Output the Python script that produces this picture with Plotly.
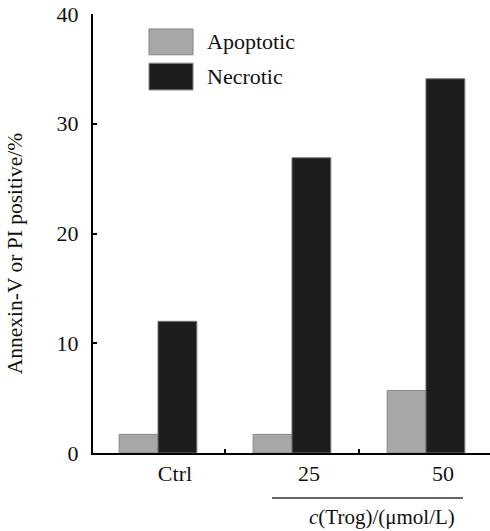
import plotly.graph_objects as go

categories = ["Ctrl", "25", "50"]
apoptotic = [1.7, 1.7, 5.7]
necrotic = [12.0, 26.9, 34.1]
series_names = ["Apoptotic", "Necrotic"]
y_ticks = [0, 10, 20, 30, 40]
x_title = "<i>c</i>(Trog)/(μmol/L)"
y_title = "Annexin-V or PI positive/%"

FONT = "Liberation Serif, Times New Roman, serif"
C_APO = "#a7a7a7"
C_NEC = "#1d1d1d"
FS = 22

fig = go.Figure()
fig.add_trace(go.Bar(x=categories, y=apoptotic, name=series_names[0],
                     marker=dict(color=C_APO, line=dict(color="#8a8a8a", width=1))))
fig.add_trace(go.Bar(x=categories, y=necrotic, name=series_names[1],
                     marker=dict(color=C_NEC, line=dict(color="#777777", width=1))))

fig.update_layout(
    width=490, height=531,
    margin=dict(l=93, r=0, t=14, b=78),
    paper_bgcolor="white", plot_bgcolor="white",
    barmode="group", bargap=0.42, bargroupgap=0,
    showlegend=False,
    font=dict(family=FONT, size=FS, color="#111"),
)
fig.update_xaxes(
    type="category", range=[-0.485, 2.478],
    showline=True, linecolor="black", linewidth=2,
    ticks="inside", ticklen=4, tickwidth=2, tickcolor="black",
    tickson="boundaries", showgrid=False, zeroline=False,
    ticklabelshift=17, ticklabelstandoff=0,
    tickfont=dict(family=FONT, size=FS, color="#111"),
)
fig.update_yaxes(
    range=[0, 40], tickvals=y_ticks,
    showline=True, linecolor="black", linewidth=2,
    ticks="inside", ticklen=4, tickwidth=2, tickcolor="black",
    showgrid=False, zeroline=False, ticklabelstandoff=8,
    ticklabeloverflow="allow",
    tickfont=dict(family=FONT, size=FS, color="#111"),
)

# y-axis title
fig.add_annotation(text=y_title, xref="paper", yref="paper", x=0, y=0.455,
                   xshift=-78, textangle=-90, showarrow=False,
                   xanchor="center", yanchor="middle",
                   font=dict(family=FONT, size=21.5, color="#111"))

# custom legend
legend_colors = [C_APO, C_NEC]
legend_rows = [(0.966, 0.907), (0.888, 0.827)]
for name, col, (y1, y0) in zip(series_names, legend_colors, legend_rows):
    fig.add_shape(type="rect", xref="paper", yref="paper",
                  x0=0.141, x1=0.252, y0=y0, y1=y1,
                  fillcolor=col, line=dict(color="#8a8a8a", width=1))
    fig.add_annotation(text=name, xref="paper", yref="paper",
                       x=0.283, y=(y0 + y1) / 2, showarrow=False,
                       xanchor="left", yanchor="middle",
                       font=dict(family=FONT, size=FS, color="#111"))

# concentration bracket line and label
fig.add_shape(type="line", xref="paper", yref="paper",
              x0=0.451, x1=0.932, y0=-0.1025, y1=-0.1025,
              line=dict(color="#333", width=1.5))
fig.add_annotation(text=x_title, xref="paper", yref="paper",
                   x=0.728, y=-0.178, showarrow=False,
                   xanchor="center", yanchor="bottom",
                   font=dict(family=FONT, size=21, color="#111"))

fig.write_html("out.html",
               config={"displayModeBar": False},
               post_script="document.body.style.margin='0';document.body.style.overflow='hidden';")
